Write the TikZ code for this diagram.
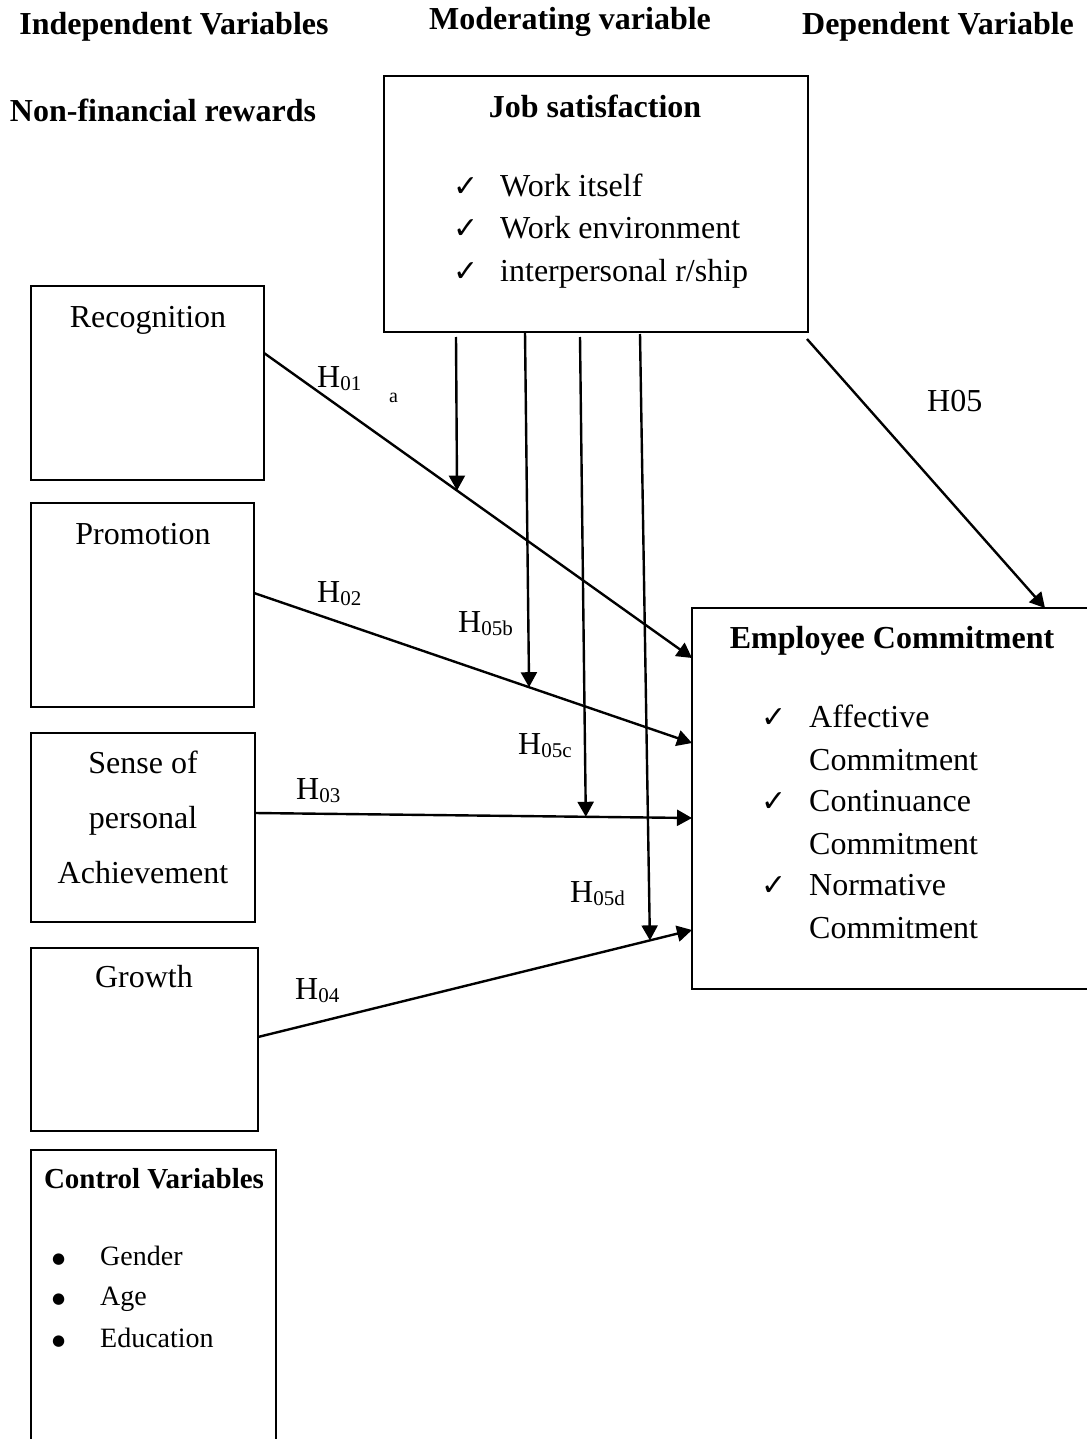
\documentclass[tikz,border=0pt]{standalone}
\usepackage{fontspec}
\setmainfont{Liberation Serif}
\newfontfamily\symfont{DejaVu Sans}
\usetikzlibrary{arrows.meta,calc}
\newcommand{\hyp}[1]{H\raisebox{-3pt}{\fontsize{21}{21}\selectfont #1}}
\newcommand{\chk}{{\symfont\fontsize{30}{30}\selectfont ✓}}
\newcommand{\bul}{{\symfont\fontsize{15}{15}\selectfont ●}}
\begin{document}
\begin{tikzpicture}[x=1pt,y=-1pt,
 box/.style={draw, line width=2.2pt, anchor=north west, inner sep=0pt, outer sep=0pt},
 txt/.style={anchor=base, inner sep=0pt, font=\fontsize{32}{38}\selectfont},
 ltxt/.style={anchor=base west, inner sep=0pt, font=\fontsize{32}{38}\selectfont},
 stxt/.style={anchor=base west, inner sep=0pt, font=\fontsize{28}{34}\selectfont},
 head/.style={anchor=base, inner sep=0pt, font=\fontsize{32}{38}\selectfont\bfseries},
 arr/.style={line width=2.4pt, -{Triangle[length=15pt,width=16pt]}},
]
\useasboundingbox (0,0) rectangle (1086,1439);
\fill[white] (0,0) rectangle (1086,1439);

% headings
\node[head] (hiv) at (174,35) {Independent Variables};
\node[head] (hmv) at (570,30) {Moderating variable};
\node[head] (hdv) at (938,35) {Dependent Variable};
\node[head] (hnf) at (163,122) {Non-financial rewards};

% job satisfaction
\node[box, minimum width=424pt, minimum height=256pt] (js) at (384,76) {};
\node[head] (jst) at (595,118) {Job satisfaction};
\node[ltxt] (jc1) at (453,197) {\chk};
\node[ltxt] (jc2) at (453,239) {\chk};
\node[ltxt] (jc3) at (453,281) {\chk};
\node[ltxt] (j1) at (500,197) {Work itself};
\node[ltxt] (j2) at (500,239) {Work environment};
\node[ltxt] (j3) at (500,281) {interpersonal r/ship};

% independent boxes
\node[box, minimum width=233pt, minimum height=194pt] (rec) at (31,286) {};
\node[txt] (rect) at (148,327) {Recognition};
\node[box, minimum width=223pt, minimum height=204pt] (prom) at (31,503) {};
\node[txt] (promt) at (143,544) {Promotion};
\node[box, minimum width=224pt, minimum height=189pt] (sense) at (31,733) {};
\node[txt] (s1) at (143,773) {Sense of};
\node[txt] (s2) at (143,828) {personal};
\node[txt] (s3) at (143,883) {Achievement};
\node[box, minimum width=227pt, minimum height=183pt] (growth) at (31,948) {};
\node[txt] (grt) at (144,987) {Growth};

% control
\node[box, minimum width=245pt, minimum height=300pt] (ctrl) at (31,1150) {};
\node[anchor=base, inner sep=0pt, font=\fontsize{29}{34}\selectfont\bfseries] (ctt) at (154,1188) {Control Variables};
\node[stxt] (b1) at (52,1263) {\bul};
\node[stxt] (b2) at (52,1303) {\bul};
\node[stxt] (b3) at (52,1345) {\bul};
\node[stxt] (c1) at (100,1265) {Gender};
\node[stxt] (c2) at (100,1305) {Age};
\node[stxt] (c3) at (100,1347) {Education};

% employee commitment
\node[box, minimum width=420pt, minimum height=381pt] (ec) at (692,608) {};
\node[head] (ect) at (892,648) {Employee Commitment};
\node[ltxt] (ec1) at (761,727) {\chk};
\node[ltxt] (ec2) at (761,811) {\chk};
\node[ltxt] (ec3) at (761,895) {\chk};
\node[ltxt] (e1a) at (809,727) {Affective};
\node[ltxt] (e1b) at (809,770) {Commitment};
\node[ltxt] (e2a) at (809,811) {Continuance};
\node[ltxt] (e2b) at (809,854) {Commitment};
\node[ltxt] (e3a) at (809,895) {Normative};
\node[ltxt] (e3b) at (809,938) {Commitment};

% connector end points
\coordinate (r1) at (rec.east |- 0,353);
\coordinate (t1) at (ec.west |- 0,658);
\coordinate (p1) at (prom.east |- 0,593);
\coordinate (t2) at (ec.west |- 0,743);
\coordinate (q1) at (sense.east |- 0,813);
\coordinate (t3) at (ec.west |- 0,818);
\coordinate (g1) at (growth.east |- 0,1037);
\coordinate (t4) at (ec.west |- 0,930);

\draw[arr] (r1) -- (t1);
\draw[arr] (p1) -- (t2);
\draw[arr] (q1) -- (t3);
\draw[arr] (g1) -- (t4);

% moderating arrows
\coordinate (m1) at ($(r1)!0.451!(t1)$);
\coordinate (m2) at ($(p1)!0.628!(t2)$);
\coordinate (m3) at ($(q1)!0.757!(t3)$);
\coordinate (m4) at ($(g1)!0.903!(t4)$);
\coordinate (u1) at ($(js.south -| 456,0)+(0,5)$);
\coordinate (u2) at (js.south -| 525,0);
\coordinate (u3) at ($(js.south -| 580,0)+(0,5)$);
\coordinate (u4) at ($(js.south -| 640,0)+(0,2)$);
\draw[arr] (u1) -- (m1);
\draw[arr] (u2) -- (m2);
\draw[arr] (u3) -- (m3);
\draw[arr] (u4) -- (m4);

% direct H05
\coordinate (h5s) at ($(js.south east)+(-1,7)$);
\coordinate (h5e) at (ec.north -| 1045,0);
\draw[arr] (h5s) -- (h5e);

% labels
\node[ltxt] (l01) at (317,387) {\hyp{01}};
\node[anchor=base west, inner sep=0pt, font=\fontsize{20}{20}\selectfont] (la) at (389,402) {a};
\node[ltxt] (l05) at (927,411) {H05};
\node[ltxt] (l02) at (317,602) {\hyp{02}};
\node[ltxt] (l05b) at (458,632) {\hyp{05b}};
\node[ltxt] (l05c) at (518,754) {\hyp{05c}};
\node[ltxt] (l03) at (296,799) {\hyp{03}};
\node[ltxt] (l05d) at (570,902) {\hyp{05d}};
\node[ltxt] (l04) at (295,999) {\hyp{04}};
\end{tikzpicture}
\end{document}
